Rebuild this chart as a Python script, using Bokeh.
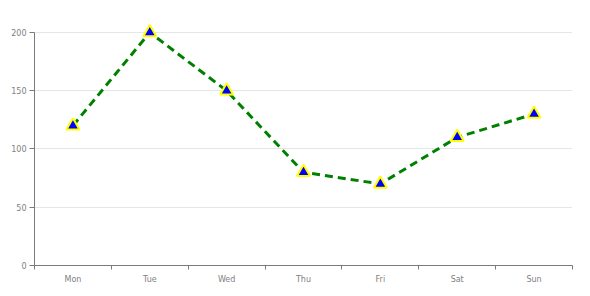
from bokeh.plotting import figure
from bokeh.models import FixedTicker, Range1d, ColumnDataSource
from bokeh.embed import file_html
from bokeh.resources import INLINE

categories = ["Mon", "Tue", "Wed", "Thu", "Fri", "Sat", "Sun"]
values = [120, 200, 150, 80, 70, 110, 130]
y_ticks = [0, 50, 100, 150, 200]

xs = [i + 0.5 for i in range(len(categories))]
src = ColumnDataSource(dict(x=xs, y=values))

p = figure(width=590, height=296, output_backend="svg", toolbar_location=None,
           x_range=Range1d(0, len(categories)), y_range=Range1d(0, 212),
           min_border_left=34, min_border_right=18, min_border_top=18, min_border_bottom=31)
p.outline_line_color = None
p.background_fill_color = "white"
p.border_fill_color = "white"

p.line("x", "y", source=src, line_color="green", line_width=3, line_dash="8 5")
p.scatter("x", "y", source=src, marker="triangle", size=13, fill_color="blue",
          line_color="yellow", line_width=2)

grey = "#7a7a7a"
p.xaxis.ticker = FixedTicker(ticks=xs, minor_ticks=list(range(len(categories) + 1)))
p.xaxis.major_label_overrides = {x: c for x, c in zip(xs, categories)}
p.xaxis.major_tick_out = 0
p.xaxis.major_tick_in = 0
p.xaxis.minor_tick_out = 4
p.xaxis.minor_tick_in = 0
p.xaxis.minor_tick_line_color = grey
p.xaxis.axis_line_color = grey
p.xaxis.major_label_standoff = 5

p.yaxis.ticker = FixedTicker(ticks=y_ticks)
p.yaxis.bounds = (0, 200)
p.yaxis.major_tick_out = 5
p.yaxis.major_tick_in = 0
p.yaxis.minor_tick_line_color = None
p.yaxis.axis_line_color = grey
p.yaxis.major_tick_line_color = grey
p.yaxis.major_label_standoff = 3

for ax in (p.xaxis, p.yaxis):
    ax.major_label_text_font = "DejaVu Sans"
    ax.major_label_text_font_size = "8px"
    ax.major_label_text_color = "#808080"

p.xgrid.grid_line_color = None
p.ygrid.ticker = FixedTicker(ticks=[50, 100, 150, 200])
p.ygrid.grid_line_color = "#E6E6E6"
p.ygrid.grid_line_width = 1

open("out.html", "w").write(file_html(p, INLINE))
